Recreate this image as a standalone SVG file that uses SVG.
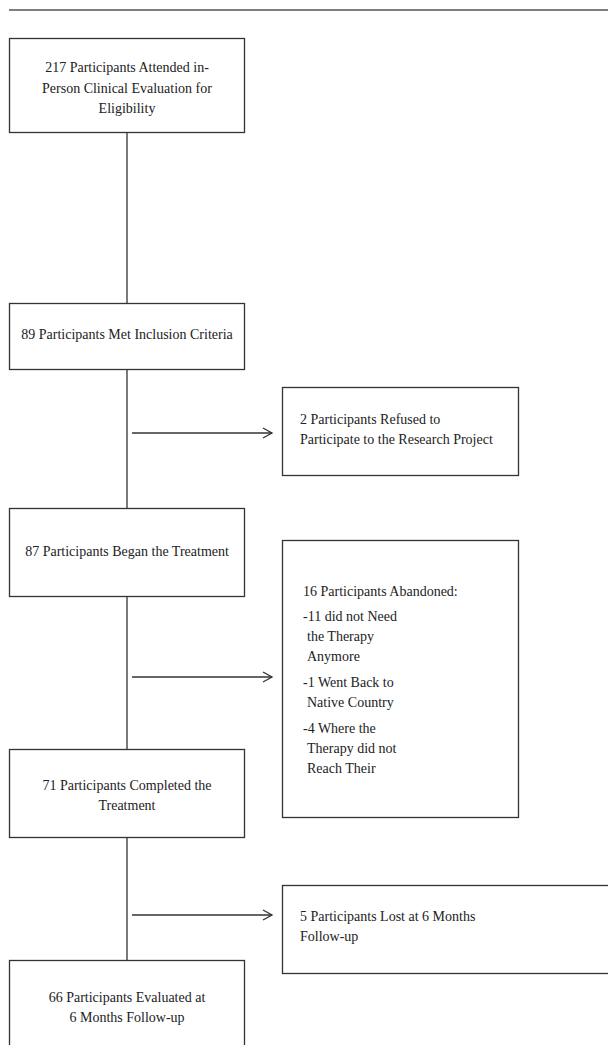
<svg xmlns="http://www.w3.org/2000/svg" width="608" height="1045" viewBox="0 0 608 1045">
<style>
.box{fill:#fff;stroke:#333;stroke-width:1.3}
.t{font-family:"Liberation Serif","Times New Roman",serif;font-size:14px;fill:#222}
.c{text-anchor:middle}
.ln{stroke:#333;stroke-width:1.3;fill:none}
</style>
<defs>
<marker id="arr" markerWidth="12" markerHeight="12" refX="10" refY="6" orient="auto" markerUnits="userSpaceOnUse">
<path d="M1,1 L10,6 L1,11" fill="none" stroke="#333" stroke-width="1.3"/>
</marker>
</defs>
<line x1="9" y1="10" x2="608" y2="10" stroke="#555" stroke-width="1.3"/>
<g id="connectors">
<line class="ln" x1="127" y1="132" x2="127" y2="303"/>
<line class="ln" x1="127" y1="370" x2="127" y2="508"/>
<line class="ln" x1="127" y1="596" x2="127" y2="749"/>
<line class="ln" x1="127" y1="837" x2="127" y2="960"/>
<line class="ln" x1="132" y1="433" x2="272" y2="433" marker-end="url(#arr)"/>
<line class="ln" x1="132" y1="677" x2="272" y2="677" marker-end="url(#arr)"/>
<line class="ln" x1="132" y1="915" x2="272" y2="915" marker-end="url(#arr)"/>
</g>
<g id="n1">
<rect class="box" x="9.5" y="38.5" width="235" height="94"/>
<text class="t c" x="127" y="72">217 Participants Attended in-</text>
<text class="t c" x="127" y="93">Person Clinical Evaluation for</text>
<text class="t c" x="127" y="113">Eligibility</text>
</g>
<g id="n2">
<rect class="box" x="9.5" y="303.5" width="235" height="66"/>
<text class="t c" x="127" y="339">89 Participants Met Inclusion Criteria</text>
</g>
<g id="n3">
<rect class="box" x="282.5" y="387.5" width="236" height="88"/>
<text class="t" x="300" y="424">2 Participants Refused to</text>
<text class="t" x="300" y="444">Participate to the Research Project</text>
</g>
<g id="n4">
<rect class="box" x="9.5" y="508.5" width="235" height="88"/>
<text class="t c" x="127" y="556">87 Participants Began the Treatment</text>
</g>
<g id="n5">
<rect class="box" x="282.5" y="540.5" width="236" height="277"/>
<text class="t" x="303" y="596">16 Participants Abandoned:</text>
<text class="t" x="303" y="621">-11 did not Need</text>
<text class="t" x="307" y="641">the Therapy</text>
<text class="t" x="307" y="661">Anymore</text>
<text class="t" x="303" y="687">-1 Went Back to</text>
<text class="t" x="307" y="707">Native Country</text>
<text class="t" x="303" y="733">-4 Where the</text>
<text class="t" x="307" y="753">Therapy did not</text>
<text class="t" x="307" y="773">Reach Their</text>
</g>
<g id="n6">
<rect class="box" x="9.5" y="749.5" width="235" height="88"/>
<text class="t c" x="127" y="790">71 Participants Completed the</text>
<text class="t c" x="127" y="810">Treatment</text>
</g>
<g id="n7">
<rect class="box" x="282.5" y="885.5" width="330" height="88"/>
<text class="t" x="300" y="921">5 Participants Lost at 6 Months</text>
<text class="t" x="300" y="941">Follow-up</text>
</g>
<g id="n8">
<rect class="box" x="9.5" y="960.5" width="235" height="100"/>
<text class="t c" x="127" y="1002">66 Participants Evaluated at</text>
<text class="t c" x="127" y="1022">6 Months Follow-up</text>
</g>
</svg>
